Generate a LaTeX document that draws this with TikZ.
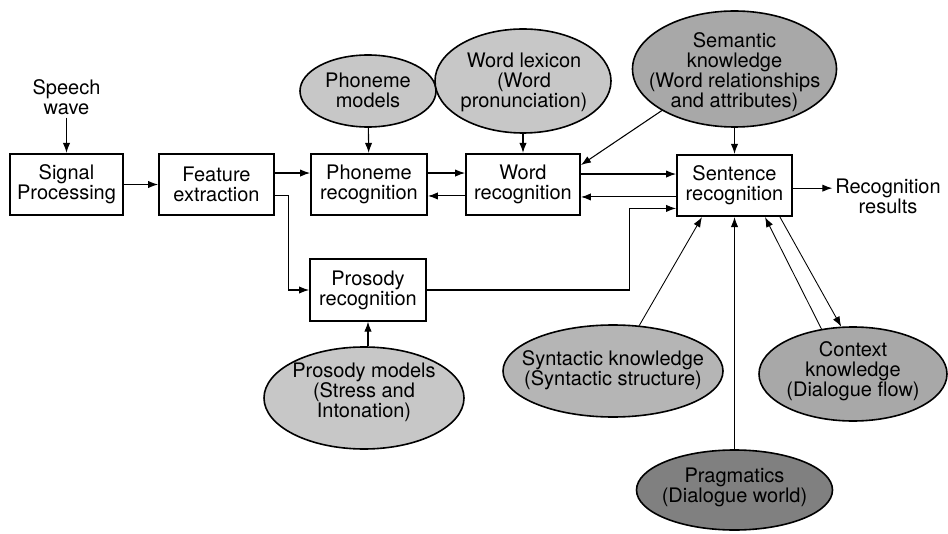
\documentclass[tikz,border=0pt]{standalone}
\usepackage{fontspec}
\setmainfont{TeX Gyre Heros}
\usetikzlibrary{shapes.geometric,arrows.meta,calc}
\begin{document}
\begin{tikzpicture}[x=0.75pt,y=-0.75pt,
  every node/.style={font=\fontsize{15pt}{15pt}\selectfont},
  box/.style={draw,line width=1.4pt,minimum height=46pt,inner sep=1pt,align=center,fill=white},
  knowl/.style={ellipse,draw,line width=1.2pt,inner sep=0pt},
  lightk/.style={knowl,fill=black!22},
  medk/.style={knowl,fill=black!29},
  midk/.style={knowl,fill=black!34},
  darkk/.style={knowl,fill=black!50},
  ktext/.style={align=center,inner sep=0pt},
  arr/.style={-{Latex[length=7.5pt,width=5.5pt]},line width=0.8pt},
  thin arr/.style={arr,line width=0.65pt},
  plain/.style={align=center,inner sep=2pt}]
\useasboundingbox (0,0) rectangle (948,534);

% boxes
\node[box,minimum width=84.75pt] (sig)  at (66.5,184.5) {Signal\\Processing};
\node[box,minimum width=86.25pt] (feat) at (216.5,184.5) {Feature\\extraction};
\node[box,minimum width=87pt]    (phon) at (369,184.5) {Phoneme\\recognition};
\node[box,minimum width=85.5pt]  (word) at (523,184.5) {Word\\recognition};
\node[box,minimum width=86.25pt] (sent) at (734.5,185.5) {Sentence\\recognition};
\node[box,minimum width=87pt]    (pros) at (368,290) {Prosody\\recognition};

% free texts
\node[plain] (speech) at (66.5,97) {Speech\\wave};
\node[plain] (results) at (888,196) {Recognition\\results};

% knowledge ellipses
\node[lightk,minimum width=102pt,minimum height=54pt]  (phmod) at (368,91) {};
\node[lightk,minimum width=132pt,minimum height=78pt]  (lex)   at (523,81) {};
\node[midk,minimum width=153pt,minimum height=87pt]    (sem)   at (734.5,69) {};
\node[lightk,minimum width=150pt,minimum height=76.5pt](prmod) at (364,398) {};
\node[medk,minimum width=165pt,minimum height=69pt]    (syn)   at (613,371) {};
\node[midk,minimum width=141pt,minimum height=70.5pt]  (ctx)   at (853,374) {};
\node[darkk,minimum width=147pt,minimum height=60pt]   (prag)  at (734.5,490) {};

\node[ktext] (phmodT) at (368,90) {Phoneme\\models};
\node[ktext] (lexT)   at (524,82) {Word lexicon\\(Word\\pronunciation)};
\node[ktext] (semT)   at (734.5,72) {Semantic\\knowledge\\(Word relationships\\and attributes)};
\node[ktext] (prmodT) at (364,392) {Prosody models\\(Stress and\\Intonation)};
\node[ktext] (synT)   at (613,370) {Syntactic knowledge\\(Syntactic structure)};
\node[ktext] (ctxT)   at (853,371) {Context\\knowledge\\(Dialogue flow)};
\node[ktext] (pragT)  at (734.5,487) {Pragmatics\\(Dialogue world)};

% connectors
\draw[arr] (speech) -- (sig);
\draw[arr] (sig) -- (feat);
\draw[arr] ([yshift=8.6pt]feat.east) -- ([yshift=8.6pt]phon.west);
\draw[arr] ([yshift=8.6pt]phon.east) -- ([yshift=8.6pt]word.west);
\draw[arr] ([yshift=-8.6pt]word.west) -- ([yshift=-8.6pt]phon.east);
\draw[arr] ([yshift=7.85pt]word.east) -- ([yshift=8.6pt]sent.west);
\draw[arr] ([yshift=-8.6pt]sent.west) -- ([yshift=-9.35pt]word.east);
\draw[arr] ([yshift=-8.6pt]feat.east) -- ++(14,0) |- (pros.west);
\draw[arr] (pros.east) -- ++(203,0) |- ([yshift=-17.2pt]sent.west);
\draw[arr] (phmod) -- (phon);
\draw[arr] (lex) -- (word);
\draw[arr] (sem) -- (sent);
\draw[arr] (sem.south west) -- ([yshift=14.6pt]word.east);
\coordinate (r0) at ([yshift=-2pt]sent.east);
\draw[arr] (r0) -- (r0 -| results.west);
\draw[arr] (prmod.north -| pros.south) -- (pros.south);
\draw[thin arr] (syn.60) -- ([xshift=-24.4pt]sent.south);
\draw[thin arr] (prag) -- (sent);
\draw[thin arr] (ctx.125) -- ([xshift=22.9pt]sent.south);
\draw[thin arr] ([xshift=34.1pt]sent.south) -- (ctx.104);
\end{tikzpicture}
\end{document}
